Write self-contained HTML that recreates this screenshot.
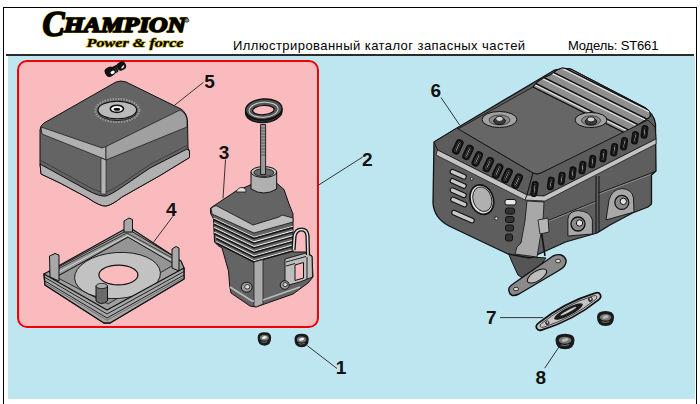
<!DOCTYPE html>
<html><head><meta charset="utf-8">
<style>
html,body{margin:0;padding:0;background:#fff;}
body{width:700px;height:404px;position:relative;overflow:hidden;font-family:"Liberation Sans",sans-serif;}
#frame{position:absolute;left:3px;top:7px;width:694px;height:420px;border:1px solid #000;box-sizing:border-box;border-bottom:none;}
#sep{position:absolute;left:6px;top:54px;width:688px;height:2px;background:#2b2b2b;}
#bg{position:absolute;left:8px;top:56px;width:687px;height:343px;background:#bee6f0;}
.hd{position:absolute;top:37.5px;font-size:13px;color:#000;white-space:nowrap;line-height:16px;}
#logo1{position:absolute;left:42px;top:6px;font-family:"Liberation Serif",serif;font-weight:bold;font-style:italic;white-space:nowrap;color:#000;}
svg{position:absolute;left:0;top:0;}
</style></head><body>
<div id="frame"></div>
<div id="sep"></div>
<div id="bg"></div>
<div class="hd" id="t1" style="left:233px;letter-spacing:0.44px;">Иллюстрированный каталог запасных частей</div>
<div class="hd" id="t2" style="left:568px;letter-spacing:-0.15px;">Модель: ST661</div>
<svg width="700" height="404" viewBox="0 0 700 404">
 <!-- logo -->
 <g id="logo" font-family="Liberation Serif" font-weight="bold" font-style="italic" stroke-linejoin="round">
  <g fill="#000" stroke="#e0c830" stroke-width="2.1">
   <text x="42.5" y="35.8" font-size="35" textLength="22" lengthAdjust="spacingAndGlyphs">C</text>
   <text x="64" y="32" font-size="20" textLength="122" lengthAdjust="spacingAndGlyphs">HAMPION</text>
  </g>
  <g fill="#000" stroke="#000" stroke-width="1.5">
   <text x="42.5" y="35.8" font-size="35" textLength="22" lengthAdjust="spacingAndGlyphs">C</text>
   <text x="64" y="32" font-size="20" textLength="122" lengthAdjust="spacingAndGlyphs">HAMPION</text>
  </g>
  <text x="86.5" y="46.5" font-size="13.5" textLength="97" lengthAdjust="spacingAndGlyphs" fill="#000" stroke="#e0c830" stroke-width="1.4">Power &amp; force</text>
  <text x="86.5" y="46.5" font-size="13.5" textLength="97" lengthAdjust="spacingAndGlyphs" fill="#000" stroke="#000" stroke-width="0.2">Power &amp; force</text>
  <circle cx="186.8" cy="20.3" r="2" fill="#888" stroke="#333" stroke-width="0.8"/>
 </g>
 <!-- pink box -->
 <rect x="18" y="61" width="300" height="266" rx="9" ry="9" fill="#fabbbf" stroke="#f00000" stroke-width="2"/>

 <!-- tank 5 -->
 <g id="tank" stroke="#111" stroke-width="1" stroke-linejoin="round">
  <path d="M44,123 L116,82 Q121,80 126,82 L181,109 Q187,113 187.5,121 L188,148 L189.5,151 L189.5,157.5 L160,175.5 L122,197 Q112,205 106,206 Q100,206.5 88,198 L60,183 L41,174 L40,163 L40,130 Q40,126 44,123 Z" fill="#646464"/>
  <path d="M40,164 L60,175 L88,190.5 Q100,197 106,196 Q112,194 122,187 L150,168 L187,149 L189.5,151 L189.5,157.5 L160,175.5 L122,197 Q112,205 106,206 Q100,206.5 88,198 L60,183 L41,174 Z" fill="#b0b0b0"/>
  <path d="M41,160.5 L60,171 L88,186.5 Q100,193 106,192 Q112,190 122,183.5 L150,164.5 L187,145.5" fill="none" stroke="#333" stroke-width="0.8"/>
  <path d="M41,127 L102,148 L106,146.5 L106,160 L102,158 L42,134 Z" fill="#b0b0b0" stroke-width="0.7"/>
  <path d="M106,146.5 L180,110 Q186,113 187,120 L187,127 L106,160 Z" fill="#a0a0a0" stroke-width="0.7"/>
  <path d="M101,158 L106,160 L106,194 L101,194 Z" fill="#b4b4b4" stroke-width="0.6"/>
  <ellipse cx="117.3" cy="110.5" rx="22" ry="11.5" fill="none" stroke="#9a9a9a" stroke-width="2.2" stroke-dasharray="1.5 1.2"/>
  <ellipse cx="117.3" cy="111.5" rx="19.3" ry="9" fill="#888" stroke-width="0.8"/>
  <ellipse cx="117.3" cy="110" rx="19.3" ry="8.7" fill="#bababa" stroke-width="1.1"/>
  <ellipse cx="116.9" cy="108.8" rx="6.6" ry="3.6" fill="#fff" stroke-width="1.6"/>
  <ellipse cx="116.9" cy="109.2" rx="3.3" ry="1.5" fill="#111" stroke="none"/>
 </g>


 <!-- frame 4 -->
 <g id="frame4" stroke="#111" stroke-width="1" stroke-linejoin="round">
  <path d="M44,274 L125,229 L132,229 L181,261 L184,268 L184,279 L110,323 L104,323 L45,285 Z" fill="#a0a0a0" stroke-width="1.2"/>
  <path d="M56,277 L128,237 L175,264 L108,304 Z" fill="#959595" stroke-width="0.8"/>
  <path d="M49,272 L126,231 L131,231 L178,259 L174,264 L128,237 L56,277 Z" fill="#9a9a9a" stroke-width="0.9"/>
  <path d="M52,272 L127,233 L176,260" fill="none" stroke="#222" stroke-width="0.8"/><path d="M54,274.5 L127.5,235.5 L175,262" fill="none" stroke="#eee" stroke-width="0.7"/>
  <ellipse cx="117.5" cy="275.5" rx="43" ry="23" fill="#c2c2c2" stroke-width="0.9" transform="rotate(-4 117.5 275.5)"/>
  <ellipse cx="118.4" cy="275" rx="19.5" ry="9.8" fill="#fabbbf" stroke-width="1.2"/>
  <path d="M44,274 L107,310 L184,268 L184,279 L110,323 L104,323 L45,285 Z" fill="#a8a8a8" stroke-width="1.3"/>
  <path d="M45,277.5 L107,314 L184,271.5" fill="none" stroke-width="0.9"/>
  <path d="M45,281 L107,318 L184,275" fill="none" stroke-width="0.9"/>
  <path d="M45,283 L107,320.3 L184,277.2" fill="none" stroke="#555" stroke-width="0.7"/>
  <path d="M49.5,256 L55,253.5 L59,255 L59,281 L50,277 Z" fill="#a8a8a8"/>
  <path d="M124,221 L129,218 L132.5,219.5 L132.5,232 L124,232 Z" fill="#a8a8a8"/>
  <path d="M172,249 L176,246.5 L179,248 L179,271 L172,268 Z" fill="#a8a8a8"/>
  <path d="M96,286 L96,301 Q101.5,306 107.5,301 L107.5,286 Z" fill="#6a6a6a"/>
  <ellipse cx="101.75" cy="286" rx="5.75" ry="2.6" fill="#aaa" stroke-width="0.8"/>
 </g>

 <!-- part 3 -->
 <g id="p3" stroke="#111" stroke-width="1" stroke-linejoin="round">
  <path d="M245.6,110 A18.2,10.5 -4 0 0 282,109 L282,111.5 A18.2,10.5 -4 0 1 245.6,112.5 Z" fill="#333" stroke-width="1.3"/>
  <ellipse cx="263.8" cy="109.3" rx="18.2" ry="10.3" transform="rotate(-4 263.8 109.3)" fill="#555" stroke-width="1.4"/>
  <ellipse cx="263.6" cy="109.8" rx="14.5" ry="7.5" transform="rotate(-4 263.6 109.8)" fill="none" stroke="#ccc" stroke-width="1"/>
  <ellipse cx="263.4" cy="110.1" rx="10.8" ry="4.6" transform="rotate(-4 263.4 110.1)" fill="#fabbbf" stroke-width="1.2"/>
  <!-- body -->
  <path d="M210.6,208 L236,191 L248,186 L252,184 L276.5,183 L284,189.5 L289,204 L293,214 L293,252 L306,252 L312,256 L313,277 L308,283 L293,294 L256,307 L250,306 L231,293 L229.7,286 L228.5,271 L222,248 L218,245.5 L214.5,242 L213.5,219 L210.5,213 Z" fill="#646464"/>
  <path d="M211,208 L216,205.5 L253,225 L279,217 L282,215 L293,218 L293,222 L254,233 L212,214 Z" fill="#bdbdbd" stroke-width="0.8"/>
  <g fill="none">
   <path d="M213.6,218.2 L254,237.2 L293,226.2" stroke="#e8e8e8" stroke-width="1.1"/>
   <path d="M213.6,219.5 L254,238.5 L293,227.5" stroke="#111" stroke-width="1.4"/>
   <path d="M213.8,222.9 L254,241.9 L293,230.9" stroke="#e8e8e8" stroke-width="1.1"/>
   <path d="M213.8,224.2 L254,243.2 L293,232.2" stroke="#111" stroke-width="1.4"/>
   <path d="M214.1,227.6 L254,246.6 L293,235.6" stroke="#e8e8e8" stroke-width="1.1"/>
   <path d="M214.1,228.9 L254,247.9 L293,236.9" stroke="#111" stroke-width="1.4"/>
   <path d="M214.3,232.3 L254,251.3 L293,240.3" stroke="#e8e8e8" stroke-width="1.1"/>
   <path d="M214.3,233.6 L254,252.6 L293,241.6" stroke="#111" stroke-width="1.4"/>
   <path d="M216.1,237.0 L254,256.0 L293,245.0" stroke="#e8e8e8" stroke-width="1.1"/>
   <path d="M216.1,238.3 L254,257.3 L293,246.3" stroke="#111" stroke-width="1.4"/>
   <path d="M216.3,241.7 L254,260.7 L293,249.7" stroke="#e8e8e8" stroke-width="1.1"/>
   <path d="M216.3,243.0 L254,262.0 L293,251.0" stroke="#111" stroke-width="1.4"/>
  </g>
  <path d="M254,262 L263,259.5 L263,304 L256,307 L254,306 Z" fill="#aaa" stroke-width="0.7"/>
  <path d="M230,287 L252,301 L254,301" fill="none" stroke="#bbb" stroke-width="1.6"/>
  <path d="M263,300 L300,287" fill="none" stroke="#bbb" stroke-width="1.6"/>
  <path d="M285,259 L306,253 L312,256.5 L312.5,277 L300,282 L285,286 Z" fill="#bdbdbd" stroke-width="0.9"/>
  <path d="M295,265 L303.5,262.5 L303.5,278 L295,280.5 Z" fill="#fabbbf" stroke-width="1"/>
  <path d="M286,262 L306,256.5 M286,266 L295,263.5" fill="none" stroke-width="0.9"/>
  <path d="M307,257 L307,279" fill="none" stroke-width="0.9"/>
  <path d="M293.5,250 L294.5,236 Q296,229.5 301.5,229.5 Q307,229.5 307.5,236 L308,255" fill="none" stroke="#111" stroke-width="4.2"/>
  <path d="M293.5,250 L294.5,236 Q296,229.5 301.5,229.5 Q307,229.5 307.5,236 L308,255" fill="none" stroke="#e0e0e0" stroke-width="1.6"/>
  <ellipse cx="246.7" cy="287.2" rx="5.5" ry="5" fill="#9a9a9a" stroke-width="1"/>
  <ellipse cx="247.3" cy="286.8" rx="2.6" ry="2.3" fill="#ddd" stroke-width="0.8"/>
  <ellipse cx="284.7" cy="285" rx="4.5" ry="4.3" fill="#9a9a9a" stroke-width="1"/>
  <ellipse cx="285.2" cy="284.6" rx="2.2" ry="2" fill="#ddd" stroke-width="0.8"/>
  <!-- cylinder -->
  <path d="M251,172 L251,189 Q263.8,197 276.7,189 L276.7,172 Z" fill="#b0b0b0"/>
  <ellipse cx="263.8" cy="172" rx="12.9" ry="5.4" fill="#c4c4c4" stroke-width="1"/>
  <ellipse cx="263.8" cy="172.6" rx="10" ry="3.9" fill="#6a6a6a" stroke-width="0.8"/>
  <rect x="260.6" y="124.5" width="5" height="50" fill="#9a9a9a" stroke-width="0.9"/>
  <g stroke="#333" stroke-width="0.6">
   <line x1="260.6" y1="128" x2="265.6" y2="128"/><line x1="260.6" y1="131" x2="265.6" y2="131"/><line x1="260.6" y1="134" x2="265.6" y2="134"/><line x1="260.6" y1="137" x2="265.6" y2="137"/><line x1="260.6" y1="140" x2="265.6" y2="140"/><line x1="260.6" y1="143" x2="265.6" y2="143"/><line x1="260.6" y1="146" x2="265.6" y2="146"/><line x1="260.6" y1="149" x2="265.6" y2="149"/><line x1="260.6" y1="152" x2="265.6" y2="152"/><line x1="260.6" y1="155" x2="265.6" y2="155"/>
  </g>
  <path d="M236,192 Q238,187 243,187.5 Q247,189 246,192 Z" fill="#ddd" stroke-width="0.8"/>
 </g>











 <!-- muffler 6 -->
 <g id="muff" stroke="#111" stroke-width="1" stroke-linejoin="round">
  <path d="M507,250 L532,257 L546,258 L536,271 L524,279 L518,275 L512,262 Z" fill="#555"/>
  <path d="M434,142 L457,128 L553,71 Q558,68 572,70 L644,108 Q654,113 655.5,124 L656,171 L651.5,175 L651.5,204 L648,207 L632.5,213 L610,225 L597,233 L590,235 L565.6,242 L543.4,252 L530,258 L508,254 L449,226 Q434,218 433,203 Z" fill="#5e5e5e" stroke-width="1.3"/>
  <path d="M458,129 L533,87 L625,133 L541,173 Q537,175 533,173 Z" fill="#666666" stroke-width="0.8"/>
  <clipPath id="ribclip"><path d="M533,87 L537,82 L545,77 L550,75 L557,70 L562,68 L571,69 L644,107 Q652,111 650,117 L625,133 Z"/></clipPath>
  <path d="M533,87 L537,82 L545,77 L550,75 L557,70 L562,68 L571,69 L644,107 Q652,111 650,117 L625,133 Z" fill="#8e8e8e" stroke-width="0.8"/>
  <g clip-path="url(#ribclip)" fill="none">
   <path d="M520,45.7 L660,115.7" stroke="#111" stroke-width="1.5"/>
   <path d="M520,47.3 L660,117.3" stroke="#e8e8e8" stroke-width="1.2"/>
   <path d="M520,55.7 L660,125.7" stroke="#111" stroke-width="1.5"/>
   <path d="M520,57.3 L660,127.3" stroke="#e8e8e8" stroke-width="1.2"/>
   <path d="M520,65.7 L660,135.7" stroke="#111" stroke-width="1.5"/>
   <path d="M520,67.3 L660,137.3" stroke="#e8e8e8" stroke-width="1.2"/>
   <path d="M520,75.7 L660,145.7" stroke="#111" stroke-width="1.5"/>
   <path d="M520,77.3 L660,147.3" stroke="#e8e8e8" stroke-width="1.2"/>
   <path d="M600,118 L606,126 L625,133" stroke="#111" stroke-width="1.2"/>
  </g>
  <path d="M533,87 L537,82 L545,77 L550,75 L557,70 L562,68 L571,69 L644,107 Q652,111 650,117 L625,133 Z" fill="none" stroke-width="1"/>
  <ellipse cx="499.5" cy="119.5" rx="17.5" ry="8" fill="#a2a2a2" stroke-width="1"/>
  <ellipse cx="499.5" cy="120.0" rx="10.5" ry="5.0" fill="#8a8a8a" stroke-width="0.6"/>
  <ellipse cx="499.5" cy="121.0" rx="5.8" ry="3.6" fill="#3a3a3a" stroke-width="1"/>
  <ellipse cx="499.5" cy="118.9" rx="3.8" ry="2.6" fill="#d0d0d0" stroke-width="0.9"/>
  <ellipse cx="591" cy="120" rx="16" ry="7.5" fill="#a2a2a2" stroke-width="1"/>
  <ellipse cx="591" cy="120.5" rx="9.6" ry="4.7" fill="#8a8a8a" stroke-width="0.6"/>
  <ellipse cx="591" cy="121.5" rx="5.8" ry="3.6" fill="#3a3a3a" stroke-width="1"/>
  <ellipse cx="591" cy="119.4" rx="3.8" ry="2.6" fill="#d0d0d0" stroke-width="0.9"/>
  <path d="M434,142 L457,128 L460,130 L533,173 L527,195 L437.5,150 Z" fill="#5c5c5c" stroke-width="0.9"/>
  <path d="M437.5,150 L527,195 L525,200 L436,155 Z" fill="#c4c4c4" stroke-width="0.7"/>
  <path d="M533,173 Q537,175.5 541,173 L648,120 L655,127 L656,139 L544,196 L527,195 Z" fill="#5c5c5c" stroke-width="0.9"/>
  <path d="M525,200 L527,195 L544,196 L656,139 L656,144 L545,201 Z" fill="#c4c4c4" stroke-width="0.7"/>
  <path d="M545.4,221.6 L596,201.2" fill="none" stroke-width="0.9"/>
  <path d="M545.4,222.6 L596,202.2" fill="none" stroke="#999" stroke-width="0.8"/>
  <path d="M598,193.4 L655,171.6" fill="none" stroke-width="0.9"/>
  <path d="M598,194.4 L651,174.4" fill="none" stroke="#999" stroke-width="0.8"/>
  <path d="M567.9,236 L567.9,219 Q569,211 578,210.6 Q590,211 592.4,220 L592.4,234 Z" fill="#a8a8a8" stroke-width="0.9"/>
  <path d="M606,220 L609,200 Q612,189 622,188.6 Q632,189 633.5,198 L634,212 Z" fill="#a8a8a8" stroke-width="0.9"/>
  <circle cx="578" cy="224" r="7" fill="#8a8a8a" stroke-width="1.3"/>
  <circle cx="579.5" cy="223" r="3.2" fill="#e0e0e0" stroke-width="1"/>
  <circle cx="621.8" cy="202.4" r="7" fill="#8a8a8a" stroke-width="1.3"/>
  <circle cx="623.3" cy="201.4" r="3.2" fill="#e0e0e0" stroke-width="1"/>
  <path d="M596,176 L596,233 M599,176 L599,232" fill="none" stroke-width="1"/>
  <path d="M527,201 L544,202 L543,221 L537,257 L515,254 L517,247 L521,243 L525,221 Z" fill="#a8a8a8" stroke-width="0.8"/>
  <path d="M540,222 L545,256" fill="none" stroke-width="1.6"/>
  <path d="M538,220 L548,218 L549,232 L540,234 Z" fill="#b5b5b5" stroke-width="0.8"/>
  <ellipse cx="481.8" cy="199.6" rx="12.3" ry="16" transform="rotate(-18 481.8 199.6)" fill="#111" stroke="none"/>
  <ellipse cx="481.8" cy="199.6" rx="10.6" ry="14.2" transform="rotate(-18 481.8 199.6)" fill="#e0e0e0" stroke="none"/>
  <ellipse cx="482.3" cy="199.2" rx="9.2" ry="12.6" transform="rotate(-18 482.3 199.2)" fill="#b0b0b0" stroke="#111" stroke-width="0.8"/>
  <circle cx="496.4" cy="218.4" r="1.6" fill="#ddd" stroke-width="0.8"/>
  <circle cx="471.7" cy="178.8" r="1.3" fill="#ddd" stroke-width="0.7"/>
<rect x="449.7" y="172.0" width="17" height="4.6" rx="2" fill="#c8c8c8" stroke="#111" stroke-width="1.1" transform="rotate(24 458.2 174.3)"/>
<rect x="449.7" y="181.1" width="17" height="4.6" rx="2" fill="#c8c8c8" stroke="#111" stroke-width="1.1" transform="rotate(24 458.2 183.4)"/>
<rect x="449.7" y="190.39999999999998" width="17" height="4.6" rx="2" fill="#c8c8c8" stroke="#111" stroke-width="1.1" transform="rotate(24 458.2 192.7)"/>
<rect x="450.3" y="199.7" width="17" height="4.6" rx="2" fill="#c8c8c8" stroke="#111" stroke-width="1.1" transform="rotate(24 458.8 202)"/>
<rect x="451.0" y="214.29999999999998" width="24" height="4.6" rx="2" fill="#c8c8c8" stroke="#111" stroke-width="1.1" transform="rotate(24 463 216.6)"/>

  <g stroke="#111" stroke-width="1">
   <rect x="505" y="199.5" width="11" height="5.5" rx="2" fill="#e8e8e8"/>
   <rect x="505.5" y="208" width="9" height="6" rx="2" fill="#333"/>
   <rect x="505.5" y="216.5" width="8.5" height="6" rx="2" fill="#333"/>
   <rect x="505.5" y="225" width="8" height="6" rx="2" fill="#333"/>
   <rect x="505.5" y="234" width="7" height="7" rx="2" fill="#333"/>
  </g>
<g transform="translate(457.8 146.8) rotate(25)"><rect x="-3.50" y="-7.50" width="7" height="15" rx="3.20" fill="#111"/><rect x="-2.20" y="-6.20" width="4.40" height="12.40" rx="2.00" fill="#5a5a5a"/><rect x="-0.7" y="-4.70" width="1.5" height="9.40" rx="0.7" fill="#e0e0e0"/></g>
<g transform="translate(468.0 152.4) rotate(25)"><rect x="-3.50" y="-7.50" width="7" height="15" rx="3.20" fill="#111"/><rect x="-2.20" y="-6.20" width="4.40" height="12.40" rx="2.00" fill="#5a5a5a"/><rect x="-0.7" y="-4.70" width="1.5" height="9.40" rx="0.7" fill="#e0e0e0"/></g>
<g transform="translate(477.3 158.9) rotate(25)"><rect x="-3.50" y="-7.50" width="7" height="15" rx="3.20" fill="#111"/><rect x="-2.20" y="-6.20" width="4.40" height="12.40" rx="2.00" fill="#5a5a5a"/><rect x="-0.7" y="-4.70" width="1.5" height="9.40" rx="0.7" fill="#e0e0e0"/></g>
<g transform="translate(488.4 164.5) rotate(25)"><rect x="-3.50" y="-7.50" width="7" height="15" rx="3.20" fill="#111"/><rect x="-2.20" y="-6.20" width="4.40" height="12.40" rx="2.00" fill="#5a5a5a"/><rect x="-0.7" y="-4.70" width="1.5" height="9.40" rx="0.7" fill="#e0e0e0"/></g>
<g transform="translate(497.7 171.0) rotate(25)"><rect x="-3.50" y="-7.50" width="7" height="15" rx="3.20" fill="#111"/><rect x="-2.20" y="-6.20" width="4.40" height="12.40" rx="2.00" fill="#5a5a5a"/><rect x="-0.7" y="-4.70" width="1.5" height="9.40" rx="0.7" fill="#e0e0e0"/></g>
<g transform="translate(507.0 175.6) rotate(25)"><rect x="-3.50" y="-7.50" width="7" height="15" rx="3.20" fill="#111"/><rect x="-2.20" y="-6.20" width="4.40" height="12.40" rx="2.00" fill="#5a5a5a"/><rect x="-0.7" y="-4.70" width="1.5" height="9.40" rx="0.7" fill="#e0e0e0"/></g>
<g transform="translate(517.2 181.2) rotate(25)"><rect x="-3.50" y="-7.50" width="7" height="15" rx="3.20" fill="#111"/><rect x="-2.20" y="-6.20" width="4.40" height="12.40" rx="2.00" fill="#5a5a5a"/><rect x="-0.7" y="-4.70" width="1.5" height="9.40" rx="0.7" fill="#e0e0e0"/></g>
<g transform="translate(534.5 189.0) rotate(8)"><rect x="-3.00" y="-7.50" width="6" height="15" rx="2.70" fill="#111"/><rect x="-1.70" y="-6.20" width="3.40" height="12.40" rx="1.50" fill="#5a5a5a"/><rect x="-0.7" y="-4.70" width="1.5" height="9.40" rx="0.7" fill="#e0e0e0"/></g>
<g transform="translate(550.8 183.4) rotate(8)"><rect x="-3.00" y="-6.25" width="6" height="12.5" rx="2.70" fill="#111"/><rect x="-1.70" y="-4.95" width="3.40" height="9.90" rx="1.50" fill="#5a5a5a"/><rect x="-0.7" y="-3.45" width="1.5" height="6.90" rx="0.7" fill="#e0e0e0"/></g>
<g transform="translate(561.7 178.5) rotate(8)"><rect x="-3.00" y="-6.25" width="6" height="12.5" rx="2.70" fill="#111"/><rect x="-1.70" y="-4.95" width="3.40" height="9.90" rx="1.50" fill="#5a5a5a"/><rect x="-0.7" y="-3.45" width="1.5" height="6.90" rx="0.7" fill="#e0e0e0"/></g>
<g transform="translate(572.6 173.1) rotate(8)"><rect x="-3.00" y="-6.25" width="6" height="12.5" rx="2.70" fill="#111"/><rect x="-1.70" y="-4.95" width="3.40" height="9.90" rx="1.50" fill="#5a5a5a"/><rect x="-0.7" y="-3.45" width="1.5" height="6.90" rx="0.7" fill="#e0e0e0"/></g>
<g transform="translate(582.5 167.6) rotate(8)"><rect x="-3.00" y="-6.25" width="6" height="12.5" rx="2.70" fill="#111"/><rect x="-1.70" y="-4.95" width="3.40" height="9.90" rx="1.50" fill="#5a5a5a"/><rect x="-0.7" y="-3.45" width="1.5" height="6.90" rx="0.7" fill="#e0e0e0"/></g>
<g transform="translate(592.4 161.6) rotate(8)"><rect x="-3.00" y="-6.25" width="6" height="12.5" rx="2.70" fill="#111"/><rect x="-1.70" y="-4.95" width="3.40" height="9.90" rx="1.50" fill="#5a5a5a"/><rect x="-0.7" y="-3.45" width="1.5" height="6.90" rx="0.7" fill="#e0e0e0"/></g>
<g transform="translate(603.3 155.7) rotate(8)"><rect x="-3.00" y="-6.25" width="6" height="12.5" rx="2.70" fill="#111"/><rect x="-1.70" y="-4.95" width="3.40" height="9.90" rx="1.50" fill="#5a5a5a"/><rect x="-0.7" y="-3.45" width="1.5" height="6.90" rx="0.7" fill="#e0e0e0"/></g>
<g transform="translate(614.2 149.7) rotate(8)"><rect x="-3.00" y="-6.25" width="6" height="12.5" rx="2.70" fill="#111"/><rect x="-1.70" y="-4.95" width="3.40" height="9.90" rx="1.50" fill="#5a5a5a"/><rect x="-0.7" y="-3.45" width="1.5" height="6.90" rx="0.7" fill="#e0e0e0"/></g>
<g transform="translate(624.1 143.8) rotate(8)"><rect x="-3.00" y="-6.25" width="6" height="12.5" rx="2.70" fill="#111"/><rect x="-1.70" y="-4.95" width="3.40" height="9.90" rx="1.50" fill="#5a5a5a"/><rect x="-0.7" y="-3.45" width="1.5" height="6.90" rx="0.7" fill="#e0e0e0"/></g>
<g transform="translate(635.0 137.8) rotate(8)"><rect x="-3.00" y="-6.25" width="6" height="12.5" rx="2.70" fill="#111"/><rect x="-1.70" y="-4.95" width="3.40" height="9.90" rx="1.50" fill="#5a5a5a"/><rect x="-0.7" y="-3.45" width="1.5" height="6.90" rx="0.7" fill="#e0e0e0"/></g>
<g transform="translate(644.5 131.9) rotate(8)"><rect x="-3.00" y="-6.25" width="6" height="12.5" rx="2.70" fill="#111"/><rect x="-1.70" y="-4.95" width="3.40" height="9.90" rx="1.50" fill="#5a5a5a"/><rect x="-0.7" y="-3.45" width="1.5" height="6.90" rx="0.7" fill="#e0e0e0"/></g>

  <path d="M513,284 L553,256 Q563,252 566,260 Q567,266 558,271 L519,294 Q510,298 509,291 Q508,287 513,284 Z" fill="#8a8a8a" stroke-width="1.4"/>
  <ellipse cx="537" cy="276" rx="11" ry="4.8" transform="rotate(-32 537 276)" fill="#bdbdbd" stroke-width="1"/>
  <ellipse cx="558" cy="261" rx="2.5" ry="1.8" fill="#ddd" stroke-width="0.8"/>
  <ellipse cx="516" cy="289" rx="2.5" ry="1.8" fill="#ddd" stroke-width="0.8"/>
 </g>
 <!-- small parts -->
 <g id="small" stroke="#111" stroke-linejoin="round">
  <g stroke="none">
   <g transform="translate(110 72) rotate(-28)"><rect x="-5" y="-5" width="10" height="9.5" rx="4" fill="#111"/></g>
   <g transform="translate(116 69) rotate(-28)"><rect x="-4" y="-3.6" width="8" height="7.2" rx="2" fill="#111"/></g>
   <g transform="translate(121.5 66) rotate(-28)"><rect x="-4.5" y="-4.3" width="9" height="8.6" rx="4" fill="#111"/></g>
   <ellipse cx="112.6" cy="72.3" rx="2.2" ry="1.6" fill="#fff" transform="rotate(-28 112.6 72.3)"/>
   <ellipse cx="118.8" cy="70.8" rx="0.8" ry="1.1" fill="#eee"/>
   <ellipse cx="122.8" cy="67" rx="2" ry="0.9" fill="#eee" transform="rotate(-50 122.8 67)"/>
   <path d="M114.5,68 L117,72 M116.5,67 L119,71" stroke="#666" stroke-width="0.6"/>
  </g>
  <g id="nut" >
  </g>
  <g transform="translate(264.4 338.9)"><path d="M-6.75,-1.35 Q-6.75,-6.75 0,-6.75 Q6.75,-6.75 6.75,-1.35 Q6.75,6.75 0,6.75 Q-6.75,6.75 -6.75,-1.35 Z" fill="#1a1a1a" stroke="none"/><ellipse cx="0" cy="-1.08" rx="4.46" ry="2.97" fill="#777" stroke="none"/><ellipse cx="0" cy="-1.35" rx="2.43" ry="1.35" fill="#f0f0f0" stroke="none" transform="rotate(-15 0 -1.35)"/><path d="M-2.97,2.97 Q0,4.32 2.97,2.70" fill="none" stroke="#888" stroke-width="0.8"/></g>
  <g transform="translate(301.6 340.6)"><path d="M-7.1,-1.35 Q-7.1,-6.75 0,-6.75 Q7.1,-6.75 7.1,-1.35 Q7.1,6.75 0,6.75 Q-7.1,6.75 -7.1,-1.35 Z" fill="#1a1a1a" stroke="none"/><ellipse cx="0" cy="-1.08" rx="4.69" ry="2.97" fill="#777" stroke="none"/><ellipse cx="0" cy="-1.35" rx="2.56" ry="1.35" fill="#f0f0f0" stroke="none" transform="rotate(-15 0 -1.35)"/><path d="M-3.12,2.97 Q0,4.32 3.12,2.70" fill="none" stroke="#888" stroke-width="0.8"/></g>
  <g transform="translate(605.5 318.5)"><path d="M-8.5,-1.5 Q-8.5,-7.5 0,-7.5 Q8.5,-7.5 8.5,-1.5 Q8.5,7.5 0,7.5 Q-8.5,7.5 -8.5,-1.5 Z" fill="#1a1a1a" stroke="none"/><ellipse cx="0" cy="-1.20" rx="5.61" ry="3.30" fill="#777" stroke="none"/><ellipse cx="0" cy="-1.50" rx="3.06" ry="1.50" fill="#bbb" stroke="none" transform="rotate(-15 0 -1.50)"/><path d="M-3.74,3.30 Q0,4.80 3.74,3.00" fill="none" stroke="#888" stroke-width="0.8"/></g>
  <g transform="translate(565 341.5)"><path d="M-9.5,-1.55 Q-9.5,-7.75 0,-7.75 Q9.5,-7.75 9.5,-1.55 Q9.5,7.75 0,7.75 Q-9.5,7.75 -9.5,-1.55 Z" fill="#1a1a1a" stroke="none"/><ellipse cx="0" cy="-1.24" rx="6.27" ry="3.41" fill="#777" stroke="none"/><ellipse cx="0" cy="-1.55" rx="3.42" ry="1.55" fill="#bbb" stroke="none" transform="rotate(-15 0 -1.55)"/><path d="M-4.18,3.41 Q0,4.96 4.18,3.10" fill="none" stroke="#888" stroke-width="0.8"/></g>
  <g transform="translate(568.5 311.5) rotate(-28)">
   <path d="M-36,0 Q-36,-3.2 -32,-3.8 Q0,-10 32,-3.8 Q36,-3.2 36,0 Q36,3.2 32,3.8 Q0,10 -32,3.8 Q-36,3.2 -36,0 Z" fill="#c4c4c4" stroke="#111" stroke-width="1.7"/>
   <path d="M-32,0 Q-32,-1.8 -29,-2.2 Q0,-7.5 29,-2.2 Q32,-1.8 32,0 Q32,1.8 29,2.2 Q0,7.5 -29,2.2 Q-32,1.8 -32,0 Z" fill="none" stroke="#333" stroke-width="0.8"/>
   <ellipse cx="0" cy="0" rx="16" ry="4" fill="#1a1a1a" stroke="none"/>
   <ellipse cx="0" cy="-0.3" rx="9" ry="1.2" fill="#d0d0d0" stroke="none"/>
   <circle cx="-24" cy="0" r="2.2" fill="#333" stroke="none"/>
   <circle cx="25" cy="-0.3" r="2.4" fill="#333" stroke="none"/>
   <circle cx="-23.6" cy="-0.4" r="0.9" fill="#ccc" stroke="none"/>
   <circle cx="25.4" cy="-0.7" r="1" fill="#ccc" stroke="none"/>
  </g>
 </g>
 <!-- labels -->
 <g font-family="Liberation Sans" font-weight="bold" font-size="19" fill="#111" text-anchor="middle">
  <text x="209.5" y="88">5</text>
  <text x="224.1" y="158.6">3</text>
  <text x="171.2" y="215.6">4</text>
  <text x="367.3" y="166">2</text>
  <text x="435.7" y="96.7">6</text>
  <text x="341" y="374.4">1</text>
  <text x="491.3" y="324.1">7</text>
  <text x="540.9" y="383.9">8</text>
 </g>
 <g stroke="#222" stroke-width="0.9" fill="none">
  <line x1="203.4" y1="82.3" x2="174.5" y2="105.3"/>
  <line x1="225.5" y1="159.5" x2="223" y2="198.5"/>
  <line x1="172.9" y1="216.3" x2="153" y2="242.9"/>
  <line x1="362.7" y1="157" x2="318.2" y2="185.3"/>
  <line x1="441" y1="97.5" x2="459.6" y2="125"/>
  <line x1="307.3" y1="345.7" x2="337" y2="368.5"/>
  <line x1="500" y1="317.6" x2="543.3" y2="317.6"/>
  <line x1="544.7" y1="368.2" x2="559" y2="346.9"/>
 </g>
</svg>
</body></html>
